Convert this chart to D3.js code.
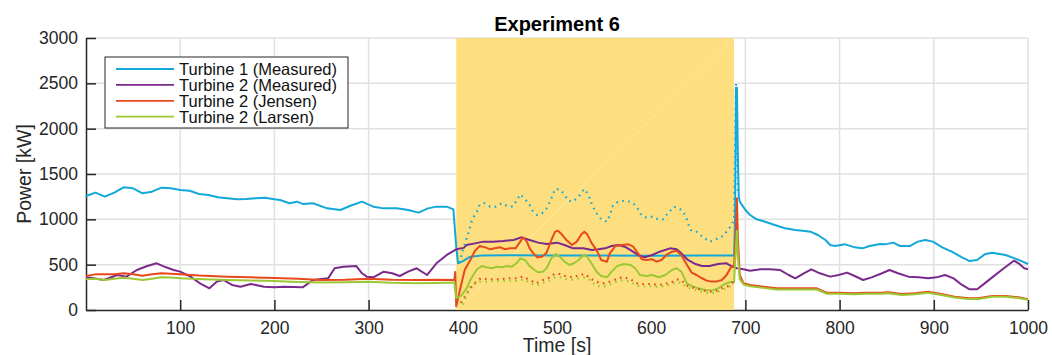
<!DOCTYPE html>
<html lang="en">
<head>
<meta charset="UTF-8">
<title>Experiment 6</title>
<script src="https://d3js.org/d3.v7.min.js"></script>
<style>
  body {
    margin: 0;
    background: #fff;
    font-family: "Liberation Sans", Arial, Helvetica, sans-serif;
  }
  .grid line { stroke: #e1e1e1; stroke-width: 1.5; }
  .axis path, .axis line { stroke: #262626; stroke-width: 1.5; }
  .axis text { font-size: 17.5px; fill: #262626; font-family: "Liberation Sans", Arial, sans-serif; }
  .line { fill: none; stroke-width: 2; stroke-linejoin: round; }
  .dotted { fill: none; stroke-width: 2.2; stroke-dasharray: 1.6,4.4; }
  .legend text { font-size: 16.5px; fill: #111; }
</style>
</head>
<body>
<div id="chart"></div>
<script>
// ---- data: [time s, power kW] ----
const xTicks = [100, 200, 300, 400, 500, 600, 700, 800, 900, 1000];
const yTicks = [0, 500, 1000, 1500, 2000, 2500, 3000];
const shadedRange = [393, 688];

const turbine1Measured = [[0,1257],[10,1294],[20,1250],[30,1294],[40,1353],[50,1342],[60,1287],[70,1305],[80,1349],[90,1342],[100,1324],[110,1316],[120,1280],[130,1268],[140,1243],[150,1232],[160,1221],[170,1224],[180,1232],[190,1239],[200,1221],[206,1213],[216,1177],[224,1195],[230,1170],[241,1177],[256,1121],[270,1103],[280,1147],[293,1195],[305,1140],[316,1121],[330,1121],[342,1103],[353,1074],[363,1121],[372,1140],[383,1140],[390,1110],[393,700],[395,515],[400,540],[408,588],[420,600],[450,605],[500,600],[550,600],[600,598],[650,600],[688,600],[689,1000],[690,2450],[691,2450],[692,1700],[693,1250],[694,1195],[700,1103],[705,1048],[712,1000],[721,974],[731,938],[742,901],[753,882],[763,871],[769,864],[777,827],[785,772],[790,717],[795,706],[806,724],[816,691],[824,680],[832,706],[843,728],[848,724],[857,743],[864,706],[875,706],[883,754],[891,772],[899,754],[909,691],[919,643],[930,581],[938,540],[946,551],[954,614],[962,632],[976,607],[983,581],[992,544],[1000,507]];

const turbine2Measured = [[0,360],[8,349],[19,331],[33,386],[43,368],[54,441],[65,485],[75,515],[85,471],[93,441],[100,423],[111,368],[122,287],[131,239],[139,313],[146,331],[155,276],[164,257],[175,287],[189,257],[200,250],[210,257],[230,250],[241,331],[257,349],[264,460],[273,478],[287,485],[293,405],[298,368],[305,360],[316,423],[325,405],[333,375],[342,423],[351,460],[362,386],[372,515],[383,607],[393,669],[401,685],[404,717],[413,735],[422,754],[432,754],[443,761],[454,772],[462,801],[471,772],[480,743],[489,728],[500,743],[508,717],[517,680],[528,680],[537,662],[544,669],[551,680],[558,706],[565,717],[572,698],[579,654],[586,607],[593,581],[601,607],[609,643],[620,680],[627,669],[632,625],[639,552],[647,507],[654,485],[662,485],[671,507],[680,515],[685,485],[691,460],[698,449],[705,434],[716,449],[726,449],[737,441],[746,386],[753,349],[762,405],[770,449],[779,405],[790,368],[799,386],[808,412],[816,375],[825,331],[834,360],[845,405],[853,441],[862,405],[873,368],[884,360],[894,349],[903,360],[912,386],[921,349],[930,276],[938,228],[946,228],[954,294],[963,368],[972,441],[979,496],[985,544],[990,515],[996,460],[1000,449]];

const turbine2Jensen = [[0,375],[10,393],[20,393],[30,394],[40,405],[50,394],[60,378],[70,395],[80,405],[90,400],[100,393],[120,380],[150,368],[175,360],[200,353],[225,345],[250,331],[275,335],[300,345],[325,335],[350,331],[370,335],[391,331],[392,420],[393,40],[397,221],[402,441],[408,552],[413,654],[418,706],[424,691],[429,669],[434,680],[440,691],[445,669],[450,680],[456,680],[461,754],[464,801],[468,754],[471,680],[475,625],[479,581],[484,588],[489,632],[494,772],[498,864],[501,875],[505,835],[510,772],[516,717],[521,754],[526,835],[529,864],[532,835],[537,735],[542,660],[547,552],[553,533],[556,625],[562,706],[569,717],[576,724],[581,698],[586,625],[590,559],[595,552],[601,559],[606,533],[611,552],[616,607],[622,643],[627,654],[632,607],[638,496],[643,412],[648,386],[654,350],[659,324],[664,313],[669,313],[675,331],[680,386],[685,478],[688,478],[690,900],[691,1232],[692,800],[694,386],[698,294],[705,276],[719,257],[733,239],[747,239],[762,239],[776,239],[786,191],[800,191],[815,184],[829,191],[843,191],[852,195],[866,176],[880,184],[894,202],[908,176],[922,147],[937,129],[947,129],[962,154],[976,154],[990,140],[1000,118]];

const turbine2Larsen = [[0,338],[10,345],[20,331],[30,345],[40,355],[50,345],[60,331],[70,345],[80,360],[90,358],[100,350],[125,340],[150,331],[175,325],[200,320],[225,310],[250,302],[275,305],[300,312],[325,300],[350,294],[370,298],[391,302],[393,130],[399,165],[404,239],[409,350],[415,449],[420,485],[425,471],[431,460],[436,478],[441,471],[447,485],[452,478],[457,515],[461,570],[466,552],[471,485],[476,441],[480,416],[485,423],[489,460],[494,570],[499,618],[503,588],[508,533],[513,497],[518,515],[523,552],[528,607],[532,588],[537,507],[542,423],[547,375],[553,361],[558,423],[564,485],[571,507],[578,497],[583,460],[588,386],[595,375],[601,386],[608,361],[615,386],[622,441],[627,460],[632,423],[638,294],[643,265],[650,239],[657,221],[664,214],[671,239],[678,287],[684,309],[688,309],[690,700],[691,875],[692,600],[694,340],[698,282],[705,262],[719,244],[733,226],[747,226],[762,226],[776,226],[786,180],[800,180],[815,173],[829,180],[843,180],[852,184],[866,166],[880,173],[894,191],[908,166],[922,138],[937,120],[947,120],[962,145],[976,145],[990,132],[1000,112]];

// dotted curves inside the shaded window (not in legend)
const turbine1Dotted = [[397,520],[399,625],[406,853],[410,1000],[415,1085],[418,1166],[423,1177],[429,1140],[435,1140],[441,1177],[447,1148],[453,1140],[457,1206],[461,1276],[470,1177],[474,1096],[479,1048],[484,1066],[489,1121],[493,1206],[498,1335],[502,1331],[507,1287],[512,1206],[517,1195],[523,1250],[529,1335],[533,1276],[538,1140],[542,1066],[547,1000],[553,974],[557,1066],[558,1133],[563,1184],[569,1202],[575,1202],[581,1177],[586,1114],[589,1059],[593,1022],[600,1030],[604,1004],[609,1004],[613,1000],[617,1059],[621,1103],[624,1140],[629,1121],[633,1096],[637,1030],[639,956],[642,882],[647,875],[652,827],[657,790],[662,754],[668,772],[672,801],[677,816],[681,882],[685,926],[688,1000],[690,2500],[692,1300]];

const jensenDotted = [[398,80],[403,160],[408,239],[413,300],[419,350],[426,339],[434,339],[441,339],[449,350],[456,350],[464,368],[471,330],[478,294],[485,330],[493,361],[497,397],[503,397],[510,368],[517,361],[524,386],[530,397],[535,350],[542,309],[550,294],[558,320],[565,350],[571,361],[578,339],[586,287],[593,287],[600,287],[608,276],[614,287],[621,301],[627,339],[632,327],[639,265],[647,239],[654,221],[661,202],[668,206],[675,239],[682,265],[686,301],[688,310]];

const larsenDotted = [[400,60],[404,165],[408,265],[412,285],[418,313],[425,313],[434,320],[441,320],[449,327],[456,320],[465,339],[471,300],[478,270],[485,300],[493,330],[498,361],[504,361],[510,339],[517,335],[524,350],[530,361],[535,330],[542,265],[550,258],[558,290],[565,320],[571,330],[578,310],[586,265],[593,262],[600,262],[608,255],[614,265],[621,280],[627,310],[632,300],[639,245],[647,220],[654,200],[661,185],[668,190],[675,220],[682,250],[686,285],[688,295]];

const legendLabels = ["Turbine 1 (Measured)", "Turbine 2 (Measured)", "Turbine 2 (Jensen)", "Turbine 2 (Larsen)"];
const seriesColors = ["#12a9d8", "#7b2a8b", "#e8491c", "#9cc834"];

// ---- drawing ----
const W = 1052, H = 355;
const margin = { top: 38, right: 24, bottom: 45, left: 86 };
const width = W - margin.left - margin.right;
const height = H - margin.top - margin.bottom;

const svg = d3.select("#chart").append("svg")
    .attr("width", W)
    .attr("height", H);

const chart = svg.append("g")
    .attr("transform", `translate(${margin.left},${margin.top})`);

const x = d3.scaleLinear().domain([0, 1000]).range([0, width]);
const y = d3.scaleLinear().domain([0, 3000]).range([height, 0]);

// grid
const grid = chart.append("g").attr("class", "grid");
grid.selectAll(".gx").data(xTicks).enter().append("line")
    .attr("x1", d => x(d)).attr("x2", d => x(d))
    .attr("y1", 0).attr("y2", height);
grid.selectAll(".gy").data(yTicks.filter(d => d > 0)).enter().append("line")
    .attr("x1", 0).attr("x2", width)
    .attr("y1", d => y(d)).attr("y2", d => y(d));

// axes (ticks point inward)
chart.append("g")
    .attr("class", "axis")
    .attr("transform", `translate(0,${height})`)
    .call(d3.axisBottom(x).tickValues(xTicks).tickFormat(d3.format("d"))
        .tickSizeInner(-10).tickSizeOuter(0).tickPadding(12));

chart.append("g")
    .attr("class", "axis")
    .call(d3.axisLeft(y).tickValues(yTicks).tickFormat(d3.format("d"))
        .tickSizeInner(-10).tickSizeOuter(0).tickPadding(8));

// shaded window
chart.append("rect")
    .attr("x", x(shadedRange[0]))
    .attr("y", y(3000))
    .attr("width", x(shadedRange[1]) - x(shadedRange[0]))
    .attr("height", y(0) - y(3000))
    .attr("fill", "#fedf80");

chart.append("line")
    .attr("x1", x(shadedRange[0])).attr("y1", y(0))
    .attr("x2", x(shadedRange[1])).attr("y2", y(3000))
    .attr("stroke", "#fff").attr("stroke-opacity", 0.35).attr("stroke-width", 0.8);

const line = d3.line()
    .x(d => x(d[0]))
    .y(d => y(d[1]));

const solid = [turbine1Measured, turbine2Measured, turbine2Jensen, turbine2Larsen];
solid.forEach((s, i) => {
    chart.append("path")
        .datum(s)
        .attr("class", "line")
        .attr("stroke", seriesColors[i])
        .attr("d", line);
});

const dotted = [[turbine1Dotted, 0], [jensenDotted, 2], [larsenDotted, 3]];
dotted.forEach(([s, ci]) => {
    chart.append("path")
        .datum(s)
        .attr("class", "dotted")
        .attr("stroke", seriesColors[ci])
        .attr("d", line);
});

// title and axis labels
svg.append("text")
    .attr("x", margin.left + width / 2)
    .attr("y", 31)
    .attr("text-anchor", "middle")
    .style("font-size", "20px")
    .style("font-weight", "bold")
    .style("fill", "#000")
    .text("Experiment 6");

svg.append("text")
    .attr("x", margin.left + width / 2)
    .attr("y", 352)
    .attr("text-anchor", "middle")
    .style("font-size", "19.5px")
    .style("fill", "#262626")
    .text("Time [s]");

svg.append("text")
    .attr("transform", `translate(31,${margin.top + height / 2}) rotate(-90)`)
    .attr("text-anchor", "middle")
    .style("font-size", "19.5px")
    .style("fill", "#262626")
    .text("Power [kW]");

// legend
const legend = svg.append("g").attr("class", "legend");
legend.append("rect")
    .attr("x", 105).attr("y", 57)
    .attr("width", 243).attr("height", 71)
    .attr("fill", "#fff")
    .attr("stroke", "#262626")
    .attr("stroke-width", 1);

legendLabels.forEach((label, i) => {
    const cy = 69 + i * 15.9;
    legend.append("line")
        .attr("x1", 116).attr("x2", 174)
        .attr("y1", cy).attr("y2", cy)
        .attr("stroke", seriesColors[i])
        .attr("stroke-width", 1.8);
    legend.append("text")
        .attr("x", 179)
        .attr("y", cy + 6)
        .text(label);
});
</script>
</body>
</html>
